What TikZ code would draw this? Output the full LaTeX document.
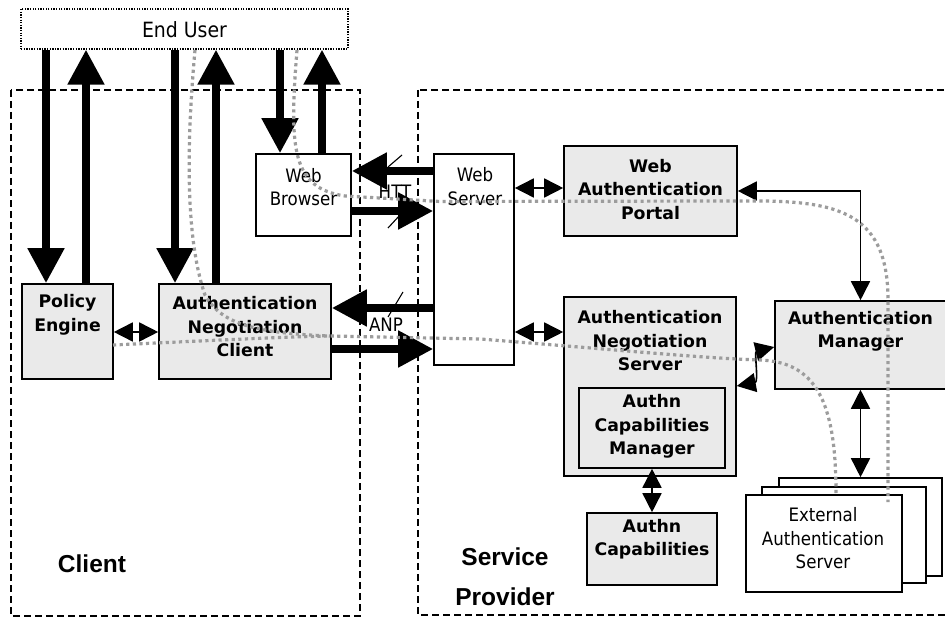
\documentclass[tikz,border=0pt]{standalone}
\usepackage{fontspec}
\setmainfont{DejaVu Sans}
\newfontfamily\condfont{DejaVu Sans Condensed}
\newfontfamily\arialfont{Liberation Sans}
\usetikzlibrary{arrows.meta,calc}

\definecolor{boxfill}{HTML}{EAEAEA}
\definecolor{flowgray}{HTML}{9C9C9C}

\begin{document}
\begin{tikzpicture}[x=1pt,y=-1pt,
  graybox/.style={draw, line width=1.6pt, fill=boxfill, inner sep=0pt},
  whitebox/.style={draw, line width=1.6pt, fill=white, inner sep=0pt},
  boldlbl/.style={align=center, inner sep=0pt, font=\bfseries\fontsize{17.3}{23.5}\selectfont},
  reglbl/.style={align=center, inner sep=0pt, font=\condfont\fontsize{18.5}{23.5}\selectfont},
  zonelbl/.style={align=center, inner sep=0pt, font=\arialfont\bfseries\fontsize{24.5}{40}\selectfont},
  region/.style={draw, line width=1.3pt, dash pattern=on 7pt off 4pt},
  bigarrow/.style={line width=8pt, -{Triangle[length=35pt,width=35pt]}},
  thinarrow/.style={line width=1.6pt, {Triangle[length=19pt,width=19pt]}-{Triangle[length=19pt,width=19pt]}},
  tick/.style={line width=1.1pt},
  flow/.style={draw=flowgray, line width=3.2pt, dash pattern=on 3.2pt off 3.4pt},
]
\useasboundingbox (0,0) rectangle (945,617);
\clip (0,0) rectangle (945,617);
\fill[white] (0,0) rectangle (945,617);

% trust domains
\draw[region] (11,90) rectangle (360,616);
\draw[region] (418,90) rectangle (970,615);
\node[zonelbl] (clientlbl) at (92,564) {Client};
\node[zonelbl] (splbl) at (505,577) {Service\\Provider};

% end user
\node[draw, line width=1.2pt, dash pattern=on 1.3pt off 1.3pt, minimum width=327pt, minimum height=40pt, inner sep=0pt]
  (enduser) at (184.5,29) {};
\node[inner sep=0pt, font=\condfont\fontsize{21}{24}\selectfont] (endusert) at (184.5,30) {End User};

% client side
\node[graybox, minimum width=91pt, minimum height=95pt] (pe) at (67.5,331.5) {};
\node[boldlbl] (pet) at (67.5,315) {Policy\\Engine};
\node[graybox, minimum width=172pt, minimum height=95pt] (anc) at (245,331.5) {};
\node[boldlbl] (anct) at (245,327) {Authentication\\Negotiation\\Client};
\node[whitebox, minimum width=95pt, minimum height=82pt] (wb) at (303.5,195) {};
\node[reglbl] (wbt) at (303.5,187) {Web\\Browser};

% service provider side
\node[whitebox, minimum width=80pt, minimum height=211pt] (ws) at (474,259.5) {};
\node[reglbl] (wst) at (475,186.5) {Web\\Server};
\node[graybox, minimum width=173pt, minimum height=90pt] (wap) at (650.5,191) {};
\node[boldlbl] (wapt) at (650.5,189.5) {Web\\Authentication\\Portal};
\node[graybox, minimum width=172pt, minimum height=179pt] (ans) at (650,386.5) {};
\node[boldlbl] (anst) at (650,341) {Authentication\\Negotiation\\Server};
\node[graybox, minimum width=146pt, minimum height=80pt] (acm) at (652,428) {};
\node[boldlbl] (acmt) at (652,426.5) {Authn\\Capabilities\\Manager};
\node[graybox, minimum width=130pt, minimum height=72pt] (ac) at (652,549) {};
\node[boldlbl] (act) at (652,539) {Authn\\Capabilities};
\node[graybox, minimum width=171pt, minimum height=88pt] (am) at (860.5,345) {};
\node[boldlbl] (amt) at (860.5,331.5) {Authentication\\Manager};

% stack of external servers
\node[whitebox, minimum width=163pt, minimum height=98pt] (extc) at (860.5,527) {};
\node[whitebox, minimum width=164pt, minimum height=96pt] (extb) at (844,535) {};
\node[whitebox, minimum width=156pt, minimum height=97pt] (exta) at (824,543.5) {};
\node[reglbl] (extt) at (823,538.5) {External\\Authentication\\Server};

% column and row helpers
\coordinate (c1) at (46,0);
\coordinate (c2) at (86,0);
\coordinate (c3) at (175,0);
\coordinate (c4) at (216,0);
\coordinate (c5) at (280,0);
\coordinate (c6) at (322,0);
\coordinate (rA) at (0,171);
\coordinate (rB) at (0,211);
\coordinate (rC) at (0,308);
\coordinate (rD) at (0,349);
\coordinate (rE) at (0,188);
\coordinate (rF) at (0,332);
\coordinate (rP) at (0,191);
\coordinate (rL) at (0,386);
\coordinate (rR) at (0,347);

% protocol labels
\node[inner sep=0pt, font=\condfont\fontsize{18.5}{22}\selectfont] (httplbl) at (395,192) {HTT};
\node[inner sep=0pt, font=\condfont\fontsize{18.5}{22}\selectfont] (anplbl) at (386,325) {ANP};
\draw[tick] (388,167) -- (402,155);
\draw[tick] (388,228) -- (400,215);
\draw[tick] (388,317) -- (403,292);

% user interaction
\draw[bigarrow] (enduser.south -| c1) -- (pe.north -| c1);
\draw[bigarrow] (pe.north -| c2) -- (enduser.south -| c2);
\draw[bigarrow] (enduser.south -| c3) -- (anc.north -| c3);
\draw[bigarrow] (anc.north -| c4) -- (enduser.south -| c4);
\draw[bigarrow] (enduser.south -| c5) -- (wb.north -| c5);
\draw[bigarrow] (wb.north -| c6) -- (enduser.south -| c6);

% HTTP and ANP exchanges
\draw[bigarrow] (ws.west |- rA) -- (wb.east |- rA);
\draw[bigarrow] (wb.east |- rB) -- (ws.west |- rB);
\draw[bigarrow] (ws.west |- rC) -- (anc.east |- rC);
\draw[bigarrow] (anc.east |- rD) -- (ws.west |- rD);

% internal links
\draw[thinarrow] (pe.east |- rF) -- (anc.west |- rF);
\draw[thinarrow] (ws.east |- rE) -- (wap.west |- rE);
\draw[thinarrow] (ws.east |- rF) -- (ans.west |- rF);
\draw[thinarrow] (wap.east |- rP) -| (am.north);
\draw[thinarrow] (ans.east |- rL) .. controls +(22,-4) and +(-20,5) .. (am.west |- rR);
\draw[thinarrow] (acm.south) -- (ac.north);
\draw[thinarrow] (am.south) -- (am.south |- extc.north);

% message flows
\draw[flow] (297,50) .. controls (289,150) and (292,188) .. (345,196)
  -- (440,201.5) -- (736,201) .. controls (830,200) and (888,206) .. (888,300) -- (888,502);
\draw[flow] (195,50) .. controls (186,150) and (186,240) .. (205,295)
  .. controls (220,322) and (250,333) .. (330,336);
\draw[flow] (113,345) .. controls (200,341) and (280,337) .. (330,336)
  -- (480,339) .. controls (620,350) and (700,358) .. (760,360)
  .. controls (815,362) and (836,400) .. (836,493);
\end{tikzpicture}
\end{document}
